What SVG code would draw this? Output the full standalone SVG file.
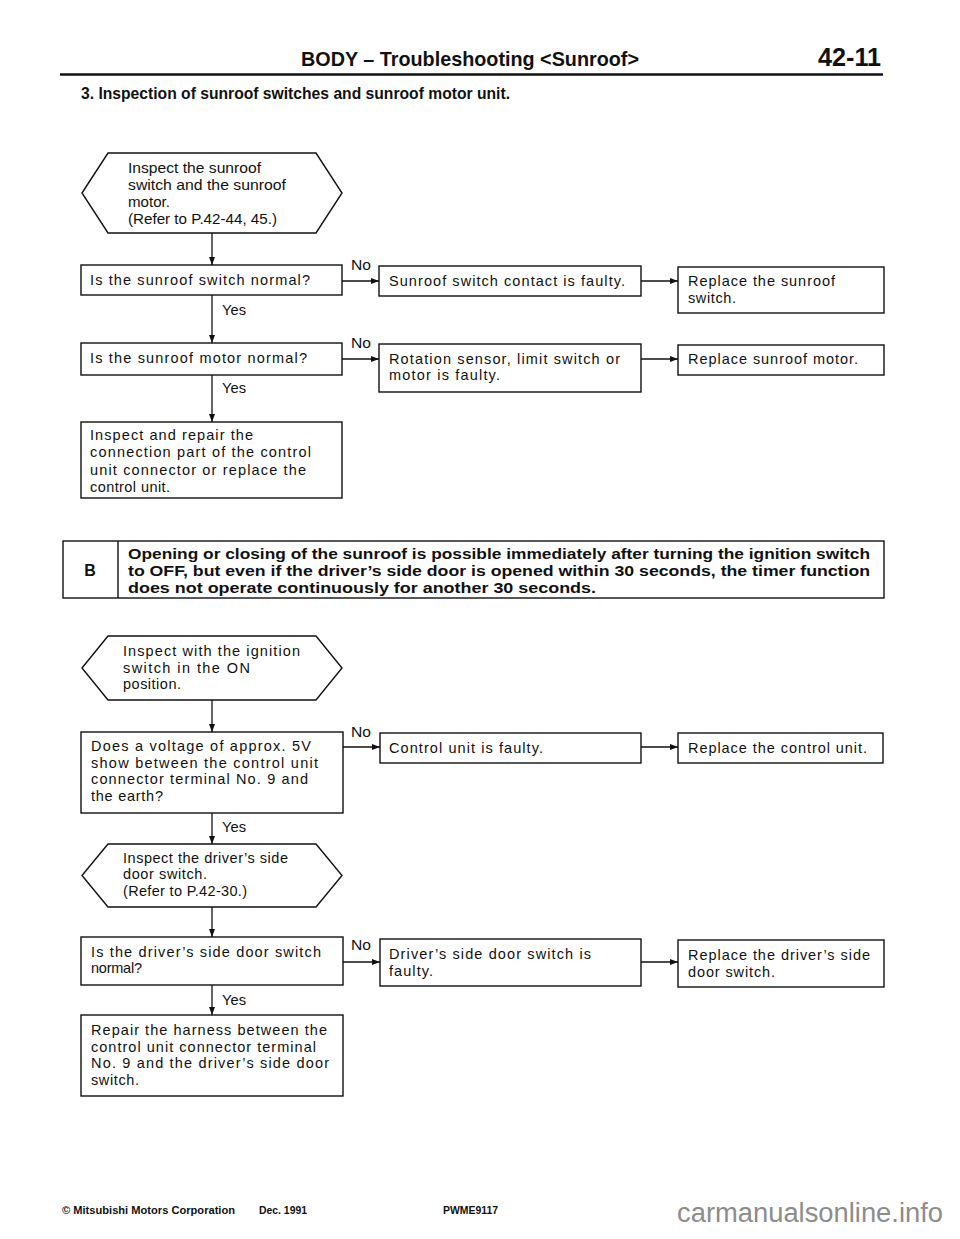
<svg xmlns="http://www.w3.org/2000/svg" width="960" height="1239" viewBox="0 0 960 1239">
<defs>
<style>
.t{font-family:"Liberation Sans",Arial,sans-serif;font-size:14.5px;fill:#111}
.b{font-family:"Liberation Sans",Arial,sans-serif;font-weight:bold;fill:#111}
.box{fill:none;stroke:#111;stroke-width:1.4}
.ln{fill:none;stroke:#111;stroke-width:1.3;marker-end:url(#ah)}
</style>
<marker id="ah" markerUnits="userSpaceOnUse" markerWidth="8" markerHeight="6" refX="8" refY="3" orient="auto">
<path d="M0,0 L8,3 L0,6 z" fill="#111"/>
</marker>
</defs>
<rect width="960" height="1239" fill="#fff"/>
<g id="header">
<text class="b" x="301" y="66" font-size="21" textLength="338" lengthAdjust="spacingAndGlyphs">BODY – Troubleshooting &lt;Sunroof&gt;</text>
<text class="b" x="818" y="66" font-size="26" textLength="63" lengthAdjust="spacingAndGlyphs">42-11</text>
<line x1="60" y1="74.5" x2="883" y2="74.5" stroke="#111" stroke-width="2.5"/>
<text class="b" x="81" y="99" font-size="16" textLength="429" lengthAdjust="spacingAndGlyphs">3. Inspection of sunroof switches and sunroof motor unit.</text>
</g>
<g id="connectors">
<line class="ln" x1="212" y1="233" x2="212" y2="265"/>
<line class="ln" x1="212" y1="295" x2="212" y2="343"/>
<line class="ln" x1="212" y1="375" x2="212" y2="422"/>
<line class="ln" x1="342" y1="281" x2="379" y2="281"/>
<line class="ln" x1="641" y1="281" x2="678" y2="281"/>
<line class="ln" x1="342" y1="359" x2="379" y2="359"/>
<line class="ln" x1="641" y1="359" x2="678" y2="359"/>
<line class="ln" x1="212" y1="700" x2="212" y2="732"/>
<line class="ln" x1="212" y1="813" x2="212" y2="844"/>
<line class="ln" x1="212" y1="907" x2="212" y2="937"/>
<line class="ln" x1="212" y1="985" x2="212" y2="1015"/>
<line class="ln" x1="343" y1="747" x2="380" y2="747"/>
<line class="ln" x1="641" y1="747" x2="678" y2="747"/>
<line class="ln" x1="343" y1="962" x2="380" y2="962"/>
<line class="ln" x1="641" y1="962" x2="678" y2="962"/>
<text class="t" x="222" y="315" textLength="24" lengthAdjust="spacingAndGlyphs">Yes</text>
<text class="t" x="222" y="393" textLength="24" lengthAdjust="spacingAndGlyphs">Yes</text>
<text class="t" x="351" y="270" textLength="20" lengthAdjust="spacingAndGlyphs">No</text>
<text class="t" x="351" y="348" textLength="20" lengthAdjust="spacingAndGlyphs">No</text>
<text class="t" x="351" y="737" textLength="20" lengthAdjust="spacingAndGlyphs">No</text>
<text class="t" x="222" y="832" textLength="24" lengthAdjust="spacingAndGlyphs">Yes</text>
<text class="t" x="351" y="950" textLength="20" lengthAdjust="spacingAndGlyphs">No</text>
<text class="t" x="222" y="1005" textLength="24" lengthAdjust="spacingAndGlyphs">Yes</text>
</g>
<g id="start1">
<polygon class="box" points="82,193 108,153 316,153 342,193 316,233 108,233"/>
<text class="t" x="128" y="173" textLength="133" lengthAdjust="spacingAndGlyphs">Inspect the sunroof</text>
<text class="t" x="128" y="190" textLength="158" lengthAdjust="spacingAndGlyphs">switch and the sunroof</text>
<text class="t" x="128" y="207" textLength="42" lengthAdjust="spacingAndGlyphs">motor.</text>
<text class="t" x="128" y="224" textLength="149" lengthAdjust="spacingAndGlyphs">(Refer to P.42-44, 45.)</text>
</g>
<g id="q1">
<rect class="box" x="81" y="265" width="261" height="30"/>
<text class="t" x="90" y="285" textLength="220" lengthAdjust="spacing">Is the sunroof switch normal?</text>
</g>
<g id="q2">
<rect class="box" x="81" y="343" width="261" height="32"/>
<text class="t" x="90" y="363" textLength="217" lengthAdjust="spacing">Is the sunroof motor normal?</text>
</g>
<g id="act1">
<rect class="box" x="81" y="422" width="261" height="76"/>
<text class="t" x="90" y="440" textLength="163" lengthAdjust="spacing">Inspect and repair the</text>
<text class="t" x="90" y="457" textLength="221" lengthAdjust="spacing">connection part of the control</text>
<text class="t" x="90" y="475" textLength="216" lengthAdjust="spacing">unit connector or replace the</text>
<text class="t" x="90" y="492" textLength="80" lengthAdjust="spacing">control unit.</text>
</g>
<g id="r1a">
<rect class="box" x="379" y="266" width="262" height="30"/>
<text class="t" x="389" y="286" textLength="236" lengthAdjust="spacing">Sunroof switch contact is faulty.</text>
</g>
<g id="r1b">
<rect class="box" x="678" y="267" width="206" height="46"/>
<text class="t" x="688" y="286" textLength="147" lengthAdjust="spacing">Replace the sunroof</text>
<text class="t" x="688" y="303" textLength="48" lengthAdjust="spacing">switch.</text>
</g>
<g id="r2a">
<rect class="box" x="379" y="344" width="262" height="48"/>
<text class="t" x="389" y="364" textLength="231" lengthAdjust="spacing">Rotation sensor, limit switch or</text>
<text class="t" x="389" y="380" textLength="111" lengthAdjust="spacing">motor is faulty.</text>
</g>
<g id="r2b">
<rect class="box" x="678" y="345" width="206" height="30"/>
<text class="t" x="688" y="364" textLength="170" lengthAdjust="spacing">Replace sunroof motor.</text>
</g>
<g id="symptomB">
<rect class="box" x="63" y="541" width="821" height="57" stroke-width="1.8"/>
<line x1="118" y1="541" x2="118" y2="598" stroke="#111" stroke-width="1.4"/>
<text class="b" x="90" y="576" font-size="16" text-anchor="middle">B</text>
<text class="b" x="128" y="559" font-size="15.5" textLength="742" lengthAdjust="spacingAndGlyphs">Opening or closing of the sunroof is possible immediately after turning the ignition switch</text>
<text class="b" x="128" y="576" font-size="15.5" textLength="742" lengthAdjust="spacingAndGlyphs">to OFF, but even if the driver’s side door is opened within 30 seconds, the timer function</text>
<text class="b" x="128" y="593" font-size="15.5" textLength="468" lengthAdjust="spacingAndGlyphs">does not operate continuously for another 30 seconds.</text>
</g>
<g id="start2">
<polygon class="box" points="82,668 108,636 316,636 342,668 316,700 108,700"/>
<text class="t" x="123" y="656" textLength="177" lengthAdjust="spacing">Inspect with the ignition</text>
<text class="t" x="123" y="673" textLength="127" lengthAdjust="spacing">switch in the ON</text>
<text class="t" x="123" y="689" textLength="58" lengthAdjust="spacing">position.</text>
</g>
<g id="q3">
<rect class="box" x="81" y="732" width="262" height="81"/>
<text class="t" x="91" y="751" textLength="220" lengthAdjust="spacing">Does a voltage of approx. 5V</text>
<text class="t" x="91" y="767.5" textLength="227" lengthAdjust="spacing">show between the control unit</text>
<text class="t" x="91" y="784" textLength="217" lengthAdjust="spacing">connector terminal No. 9 and</text>
<text class="t" x="91" y="800.5" textLength="72" lengthAdjust="spacing">the earth?</text>
</g>
<g id="r3a">
<rect class="box" x="380" y="733" width="261" height="30"/>
<text class="t" x="389" y="753" textLength="154" lengthAdjust="spacing">Control unit is faulty.</text>
</g>
<g id="r3b">
<rect class="box" x="678" y="733" width="205" height="30"/>
<text class="t" x="688" y="753" textLength="179" lengthAdjust="spacing">Replace the control unit.</text>
</g>
<g id="inspect3">
<polygon class="box" points="82,875.5 108,844 316,844 342,875.5 316,907 108,907"/>
<text class="t" x="123" y="863" textLength="165" lengthAdjust="spacing">Inspect the driver’s side</text>
<text class="t" x="123" y="879" textLength="84" lengthAdjust="spacing">door switch.</text>
<text class="t" x="123" y="896" textLength="124" lengthAdjust="spacing">(Refer to P.42-30.)</text>
</g>
<g id="q4">
<rect class="box" x="81" y="937" width="262" height="48"/>
<text class="t" x="91" y="957" textLength="230" lengthAdjust="spacing">Is the driver’s side door switch</text>
<text class="t" x="91" y="973" textLength="51" lengthAdjust="spacing">normal?</text>
</g>
<g id="r4a">
<rect class="box" x="380" y="939" width="261" height="47"/>
<text class="t" x="389" y="959" textLength="202" lengthAdjust="spacing">Driver’s side door switch is</text>
<text class="t" x="389" y="976" textLength="44" lengthAdjust="spacing">faulty.</text>
</g>
<g id="r4b">
<rect class="box" x="678" y="940" width="206" height="47"/>
<text class="t" x="688" y="960" textLength="182" lengthAdjust="spacing">Replace the driver’s side</text>
<text class="t" x="688" y="977" textLength="87" lengthAdjust="spacing">door switch.</text>
</g>
<g id="act2">
<rect class="box" x="81" y="1015" width="262" height="81"/>
<text class="t" x="91" y="1035" textLength="236" lengthAdjust="spacing">Repair the harness between the</text>
<text class="t" x="91" y="1052" textLength="225" lengthAdjust="spacing">control unit connector terminal</text>
<text class="t" x="91" y="1068" textLength="238" lengthAdjust="spacing">No. 9 and the driver’s side door</text>
<text class="t" x="91" y="1085" textLength="48" lengthAdjust="spacing">switch.</text>
</g>
<g id="footer">
<text class="b" x="62" y="1214" font-size="10.5" textLength="173" lengthAdjust="spacingAndGlyphs">© Mitsubishi Motors Corporation</text>
<text class="b" x="259" y="1214" font-size="10.5" textLength="48" lengthAdjust="spacingAndGlyphs">Dec. 1991</text>
<text class="b" x="443" y="1214" font-size="10.5" textLength="55" lengthAdjust="spacingAndGlyphs">PWME9117</text>
<text x="677" y="1222" font-family="'Liberation Sans',Arial,sans-serif" font-size="27" fill="#8c8c8c" textLength="266" lengthAdjust="spacingAndGlyphs">carmanualsonline.info</text>
</g>
</svg>
